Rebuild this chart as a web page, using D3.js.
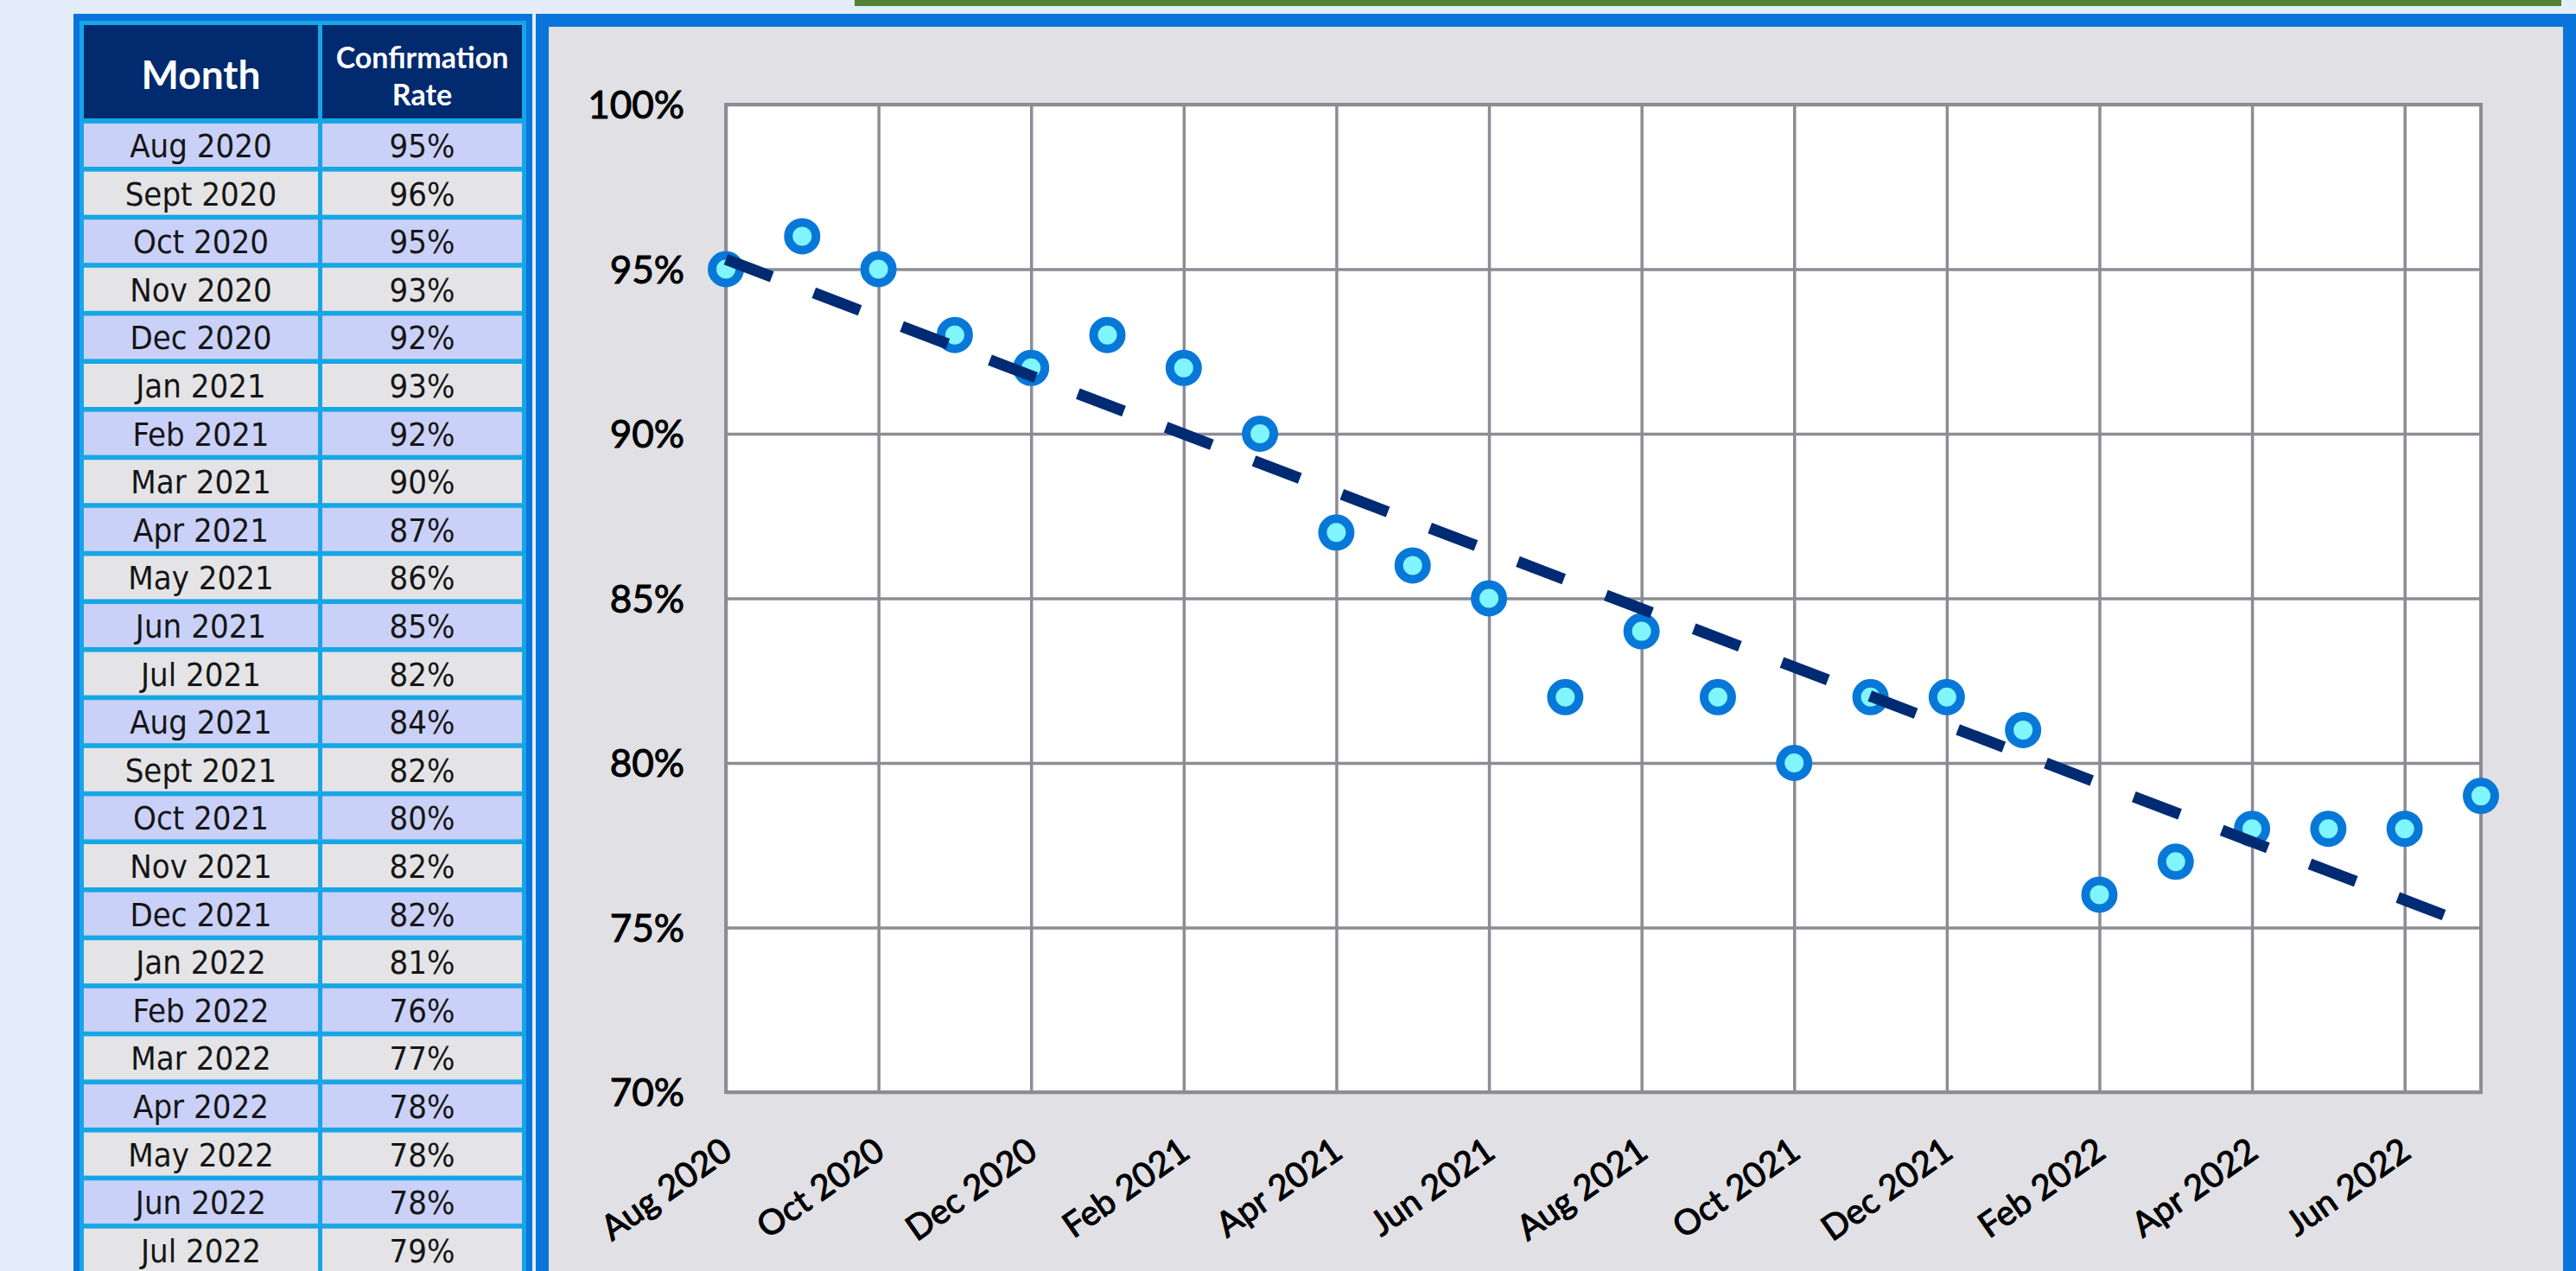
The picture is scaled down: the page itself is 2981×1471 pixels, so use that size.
<!DOCTYPE html>
<html>

<head>
    <meta charset="UTF-8">
    <style>
        body {
            margin: 0;
            background: #e4edf9;
            overflow: hidden;
        }
    </style>
</head>

<body>
    <div id="my_dataviz"></div>

    <script src="https://d3js.org/d3.v7.min.js"></script>
    <script>

        const months = ["Aug 2020", "Sept 2020", "Oct 2020", "Nov 2020", "Dec 2020", "Jan 2021",
            "Feb 2021", "Mar 2021", "Apr 2021", "May 2021", "Jun 2021", "Jul 2021",
            "Aug 2021", "Sept 2021", "Oct 2021", "Nov 2021", "Dec 2021", "Jan 2022",
            "Feb 2022", "Mar 2022", "Apr 2022", "May 2022", "Jun 2022", "Jul 2022"];
        const rates = [95, 96, 95, 93, 92, 93, 92, 90, 87, 86, 85, 82,
            84, 82, 80, 82, 82, 81, 76, 77, 78, 78, 78, 79];
        const xTickLabels = ["Aug 2020", "Oct 2020", "Dec 2020", "Feb 2021", "Apr 2021", "Jun 2021",
            "Aug 2021", "Oct 2021", "Dec 2021", "Feb 2022", "Apr 2022", "Jun 2022"];
        const yTicks = [70, 75, 80, 85, 90, 95, 100];

        const W = 2981, H = 1471;

        const svg = d3.select("#my_dataviz")
            .append("svg")
            .attr("width", W)
            .attr("height", H);

        // green strip at the top
        svg.append("rect").attr("x", 989).attr("y", 0).attr("width", 1975).attr("height", 7).attr("fill", "#538135");

        // ---------- Table ----------
        const tbl = { left: 97, colSplit: 368, colGap: 5, right: 604, headTop: 29, headBottom: 137, rowTop: 143, rowStep: 55.6, rowH: 50 };

        svg.append("rect").attr("x", 85).attr("y", 16).attr("width", 531).attr("height", H).attr("fill", "#0a74da");
        svg.append("rect").attr("x", 92).attr("y", 24).attr("width", 517).attr("height", H).attr("fill", "#16a6e6");

        const cols = [
            { x: tbl.left, w: tbl.colSplit - tbl.left },
            { x: tbl.colSplit + tbl.colGap, w: tbl.right - tbl.colSplit - tbl.colGap }
        ];

        // header
        cols.forEach(c => {
            svg.append("rect").attr("x", c.x).attr("y", tbl.headTop)
                .attr("width", c.w).attr("height", tbl.headBottom - tbl.headTop)
                .attr("fill", "#012a6f");
        });
        svg.append("text")
            .attr("x", cols[0].x + cols[0].w / 2).attr("y", 103)
            .attr("text-anchor", "middle")
            .style("font-family", "Lato").style("font-weight", "bold").style("font-size", "46px")
            .attr("fill", "#fff").text("Month");
        svg.append("text")
            .attr("x", cols[1].x + cols[1].w / 2).attr("y", 79)
            .attr("text-anchor", "middle")
            .style("font-family", "Lato").style("font-weight", "bold").style("font-size", "34px")
            .attr("fill", "#fff").text("Confirmation");
        svg.append("text")
            .attr("x", cols[1].x + cols[1].w / 2).attr("y", 122)
            .attr("text-anchor", "middle")
            .style("font-family", "Lato").style("font-weight", "bold").style("font-size", "34px")
            .attr("fill", "#fff").text("Rate");

        // rows
        const rowY = d3.scaleLinear().domain([0, 1]).range([tbl.rowTop, tbl.rowTop + tbl.rowStep]);
        const rows = svg.append("g").selectAll("g")
            .data(months.map((m, i) => ({ month: m, rate: rates[i], i: i })))
            .enter().append("g")
            .attr("transform", d => `translate(0, ${rowY(d.i)})`);

        cols.forEach((c, ci) => {
            rows.append("rect")
                .attr("x", c.x).attr("y", 0)
                .attr("width", c.w).attr("height", tbl.rowH)
                .attr("fill", d => d.i % 2 === 0 ? "#cad1f8" : "#e4e4e6");
            rows.append("text")
                .attr("x", c.x + c.w / 2).attr("y", tbl.rowH / 2 + 14)
                .attr("text-anchor", "middle")
                .style("font-family", "'DejaVu Sans Condensed', 'DejaVu Sans'")
                .style("font-size", "38px")
                .attr("fill", "#151515")
                .text(d => ci === 0 ? d.month : d.rate + "%");
        });

        // ---------- Chart panel ----------
        svg.append("rect").attr("x", 620).attr("y", 16).attr("width", W - 620).attr("height", H).attr("fill", "#0a74da");
        svg.append("rect").attr("x", 635).attr("y", 31).attr("width", 2966 - 635).attr("height", H).attr("fill", "#e1e1e5");

        const margin = { top: 121, left: 840, right: 2871, bottom: 1264 };

        const x = d3.scaleLinear().domain([0, months.length - 1]).range([margin.left, margin.right]);
        const y = d3.scaleLinear().domain([70, 100]).range([margin.bottom, margin.top]);

        svg.append("rect")
            .attr("x", margin.left).attr("y", margin.top)
            .attr("width", margin.right - margin.left).attr("height", margin.bottom - margin.top)
            .attr("fill", "#fff");

        const gridColor = "#8c8c95";

        // Y axis with horizontal grid
        const yAxis = svg.append("g")
            .attr("transform", `translate(${margin.left}, 0)`)
            .call(d3.axisLeft(y).tickValues(yTicks).tickFormat(d => d + "%")
                .tickSize(-(margin.right - margin.left)).tickPadding(48));
        yAxis.select(".domain").remove();
        yAxis.selectAll("line").attr("stroke", gridColor).attr("stroke-width", 3.5);
        yAxis.selectAll("text")
            .style("font-family", "Lato").style("font-size", "44px")
            .attr("fill", "#000").attr("stroke", "#000").attr("stroke-width", 1)
            .attr("dy", "0.36em");

        // X axis with vertical grid every 2 months
        const xTickIdx = xTickLabels.map((l, k) => k * 2);
        const xAxis = svg.append("g")
            .attr("transform", `translate(0, ${margin.bottom})`)
            .call(d3.axisBottom(x).tickValues(xTickIdx).tickFormat((d, k) => xTickLabels[k])
                .tickSize(-(margin.bottom - margin.top)));
        xAxis.select(".domain").remove();
        xAxis.selectAll("line").attr("stroke", gridColor).attr("stroke-width", 3.5);
        xAxis.selectAll("text")
            .attr("y", 0).attr("dy", 0)
            .attr("text-anchor", "end")
            .attr("transform", "translate(9, 74) rotate(-35)")
            .style("font-family", "Lato").style("font-size", "40px")
            .attr("fill", "#000").attr("stroke", "#000").attr("stroke-width", 1.1);

        // plot frame
        svg.append("rect")
            .attr("x", margin.left).attr("y", margin.top)
            .attr("width", margin.right - margin.left).attr("height", margin.bottom - margin.top)
            .attr("fill", "none").attr("stroke", gridColor).attr("stroke-width", 4);

        // markers
        svg.append("g").selectAll("circle")
            .data(rates)
            .enter().append("circle")
            .attr("cx", (d, i) => x(i))
            .attr("cy", d => y(d))
            .attr("r", 16)
            .attr("fill", "#80f5fd")
            .attr("stroke", "#0878d8")
            .attr("stroke-width", 10);

        // linear trendline (least squares on the rates)
        const xm = d3.mean(rates, (d, i) => i), ym = d3.mean(rates);
        const slope = d3.sum(rates, (d, i) => (i - xm) * (d - ym)) / d3.sum(rates, (d, i) => (i - xm) * (i - xm));
        const icpt = ym - slope * xm;
        const trend = [0, rates.length - 1].map(i => [i, icpt + slope * i]);

        svg.append("path")
            .datum(trend)
            .attr("d", d3.line().x(d => x(d[0])).y(d => y(d[1])))
            .attr("fill", "none")
            .attr("stroke", "#002b73")
            .attr("stroke-width", 13)
            .attr("stroke-dasharray", "57,52");

    </script>
</body>

</html>
